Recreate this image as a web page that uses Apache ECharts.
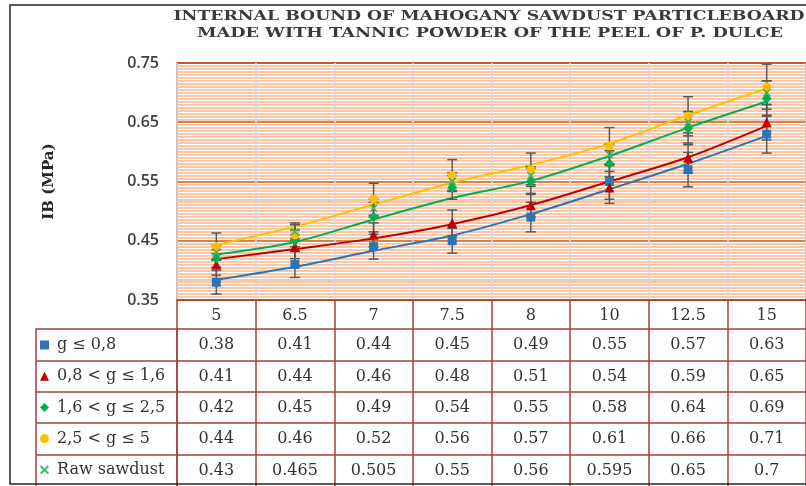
<!DOCTYPE html>
<html><head><meta charset="utf-8">
<script src="https://cdn.jsdelivr.net/npm/echarts@6/dist/echarts.min.js"></script>
<style>html,body{margin:0;padding:0;background:#fff}#c{width:806px;height:486px}</style>
</head><body><div id="c"></div>
<script>
const titleLine1 = 'INTERNAL BOUND OF MAHOGANY SAWDUST PARTICLEBOARD';
const titleLine2 = 'MADE WITH TANNIC POWDER OF THE PEEL OF P. DULCE';
const yAxisName = 'IB (MPa)';
const categories = ['5', '6.5', '7', '7.5', '8', '10', '12.5', '15'];
const seriesNames = ['g ≤ 0,8', '0,8 < g ≤ 1,6', '1,6 < g ≤ 2,5', '2,5 < g ≤ 5', 'Raw sawdust'];
const s1 = [0.38, 0.41, 0.44, 0.45, 0.49, 0.55, 0.57, 0.63];
const s2 = [0.41, 0.44, 0.46, 0.48, 0.51, 0.54, 0.59, 0.65];
const s3 = [0.42, 0.45, 0.49, 0.54, 0.55, 0.58, 0.64, 0.69];
const s4 = [0.44, 0.46, 0.52, 0.56, 0.57, 0.61, 0.66, 0.71];
const s5 = [0.43, 0.465, 0.505, 0.55, 0.56, 0.595, 0.65, 0.7];
// trendlines
const t1 = [0.384, 0.406, 0.433, 0.459, 0.495, 0.537, 0.580, 0.627];
const t2 = [0.419, 0.436, 0.454, 0.478, 0.510, 0.550, 0.591, 0.644];
const t3 = [0.427, 0.448, 0.486, 0.522, 0.551, 0.593, 0.641, 0.685];
const t4 = [0.443, 0.474, 0.511, 0.548, 0.578, 0.614, 0.662, 0.707];
// error bar half-widths
const e1 = [0.020, 0.022, 0.021, 0.021, 0.025, 0.030, 0.029, 0.032];
const e2 = [0.018, 0.020, 0.020, 0.022, 0.020, 0.027, 0.025, 0.030];
const e3 = [0.015, 0.018, 0.025, 0.020, 0.022, 0.022, 0.028, 0.030];
const e4 = [0.023, 0.020, 0.027, 0.027, 0.028, 0.031, 0.033, 0.038];
const e5 = [0.012, 0.012, 0.015, 0.015, 0.015, 0.018, 0.018, 0.020];
const yTicks = [0.35, 0.45, 0.55, 0.65, 0.75];

const colors = ['#2e75b6', '#c00000', '#00b050', '#ffc000', '#3cb86a'];
const symbols = ['rect', 'triangle', 'diamond', 'circle', 'path://M0,1.5L1.5,0L5,3.5L8.5,0L10,1.5L6.5,5L10,8.5L8.5,10L5,6.5L1.5,10L0,8.5L3.5,5Z'];
const symSizes = [9, 10, 10, 9, 8];
const values = [s1, s2, s3, s4, s5];
const trends = [t1, t2, t3, t4];
const errs = [e1, e2, e3, e4, e5];

const RED = '#a8403c';
const GL = 177, GT = 63, GW = 641, GH = 237;
const rowOffsets = [29, 61, 92, 123, 155];
const rowHeights = [32, 31, 31, 32, 40];
const tableFont = '"DejaVu Serif"';

const chart = echarts.init(document.getElementById('c'), null, {renderer: 'canvas'});

const xAxes = [{
  type: 'category', data: categories, gridIndex: 0, position: 'bottom',
  axisLine: {show: true, lineStyle: {color: RED, width: 1.5}},
  axisTick: {show: true, interval: 0, length: 29, lineStyle: {color: RED, width: 1.5}},
  axisLabel: {interval: 0, margin: 8, fontFamily: tableFont, fontSize: 16, color: '#333'},
  splitLine: {show: true, interval: 0, lineStyle: {color: '#d9d9d9', width: 1.5}}
}];
values.forEach((arr, i) => {
  xAxes.push({
    type: 'category', data: arr.map(v => String(v)), gridIndex: 0, position: 'bottom',
    offset: rowOffsets[i],
    axisLine: {show: true, lineStyle: {color: RED, width: 1.5}},
    axisTick: {show: true, interval: 0, length: rowHeights[i], lineStyle: {color: RED, width: 1.5}},
    axisLabel: {interval: 0, margin: 8, fontFamily: tableFont, fontSize: 16, color: '#333'},
    splitLine: {show: false}
  });
});

const series = [];
trends.forEach((arr, i) => {
  series.push({
    type: 'line', name: 'trend' + i, data: arr, smooth: 0.3, showSymbol: false, silent: true,
    lineStyle: {color: colors[i], width: 2}, z: 2
  });
});
errs.forEach((arr, i) => {
  series.push({
    type: 'custom', name: 'err' + i, silent: true, z: 3,
    data: arr.map((e, k) => [k, values[i][k] - e, values[i][k] + e]),
    encode: {x: 0, y: [1, 2]},
    renderItem: function (params, api) {
      const lo = api.coord([api.value(0), api.value(1)]);
      const hi = api.coord([api.value(0), api.value(2)]);
      const hw = 5;
      const st = {stroke: '#595959', lineWidth: 1.5};
      return {type: 'group', children: [
        {type: 'line', shape: {x1: lo[0], y1: lo[1], x2: hi[0], y2: hi[1]}, style: st},
        {type: 'line', shape: {x1: lo[0] - hw, y1: lo[1], x2: lo[0] + hw, y2: lo[1]}, style: st},
        {type: 'line', shape: {x1: hi[0] - hw, y1: hi[1], x2: hi[0] + hw, y2: hi[1]}, style: st}
      ]};
    }
  });
});
values.forEach((arr, i) => {
  series.push({
    type: 'scatter', name: seriesNames[i], data: arr, symbol: symbols[i], symbolSize: symSizes[i],
    itemStyle: {color: colors[i], opacity: 1}, z: 4
  });
});

function fitScale(text, font, target) {
  const c = document.createElement('canvas').getContext('2d');
  c.font = font;
  return target / c.measureText(text).width;
}
const tFont = 'bold 12px "DejaVu Serif"';
const sc1 = fitScale(titleLine1, tFont, 631);
const sc2 = fitScale(titleLine2, tFont, 586);

const legendRowsY = [329, 361, 392, 423, 455];
const graphics = [
  {type: 'rect', shape: {x: 10, y: 5, width: 820, height: 479}, style: {fill: 'none', stroke: '#262626', lineWidth: 1.5}, z: 100},
  {type: 'text', x: 489, y: 16.5, scaleX: sc1, style: {text: titleLine1, font: tFont, fill: '#3a3a3a', align: 'center', verticalAlign: 'middle'}},
  {type: 'text', x: 490, y: 33.5, scaleX: sc2, style: {text: titleLine2, font: tFont, fill: '#3a3a3a', align: 'center', verticalAlign: 'middle'}},
  {type: 'rect', shape: {x: 36, y: 329, width: 141, height: 170}, style: {fill: 'none', stroke: RED, lineWidth: 1.5}}
];
legendRowsY.slice(1).forEach(y => graphics.push({type: 'line', shape: {x1: 36, y1: y, x2: 177, y2: y}, style: {stroke: RED, lineWidth: 1.5}}));

chart.setOption({
  animation: false,
  grid: {left: GL, top: GT, width: GW, height: GH, show: true, borderColor: RED, borderWidth: 1.5, containLabel: false},
  xAxis: xAxes,
  yAxis: {
    type: 'value', min: 0.35, max: 0.75, interval: 0.1,
    name: yAxisName, nameLocation: 'middle', nameGap: 120, nameRotate: 90,
    nameTextStyle: {fontFamily: tableFont, fontWeight: 'bold', fontSize: 15, color: '#262626'},
    axisLine: {show: false}, axisTick: {show: false},
    axisLabel: {margin: 18, fontFamily: '"Open Sans"', fontWeight: 600, fontSize: 16, color: '#404040',
      formatter: v => { const m = yTicks.find(t => Math.abs(t - v) < 1e-6); return m !== undefined ? m.toFixed(2) : ''; }},
    splitLine: {show: true, lineStyle: {color: '#c55a11', width: 1.5}},
    minorTick: {show: false, splitNumber: 20},
    minorSplitLine: {show: true, lineStyle: {color: '#f6b68c', width: 1.5}}
  },
  legend: {
    data: seriesNames.map((n, i) => ({name: n, icon: symbols[i]})),
    orient: 'vertical', left: 40, top: 337, height: 250, padding: 0,
    itemWidth: 9, itemHeight: 9, itemGap: 15.2,
    textStyle: {fontFamily: tableFont, fontSize: 16, lineHeight: 16, color: '#333', padding: [0, 0, 0, 3]},
    selectedMode: false
  },
  graphic: graphics,
  series: series
});
</script></body></html>
